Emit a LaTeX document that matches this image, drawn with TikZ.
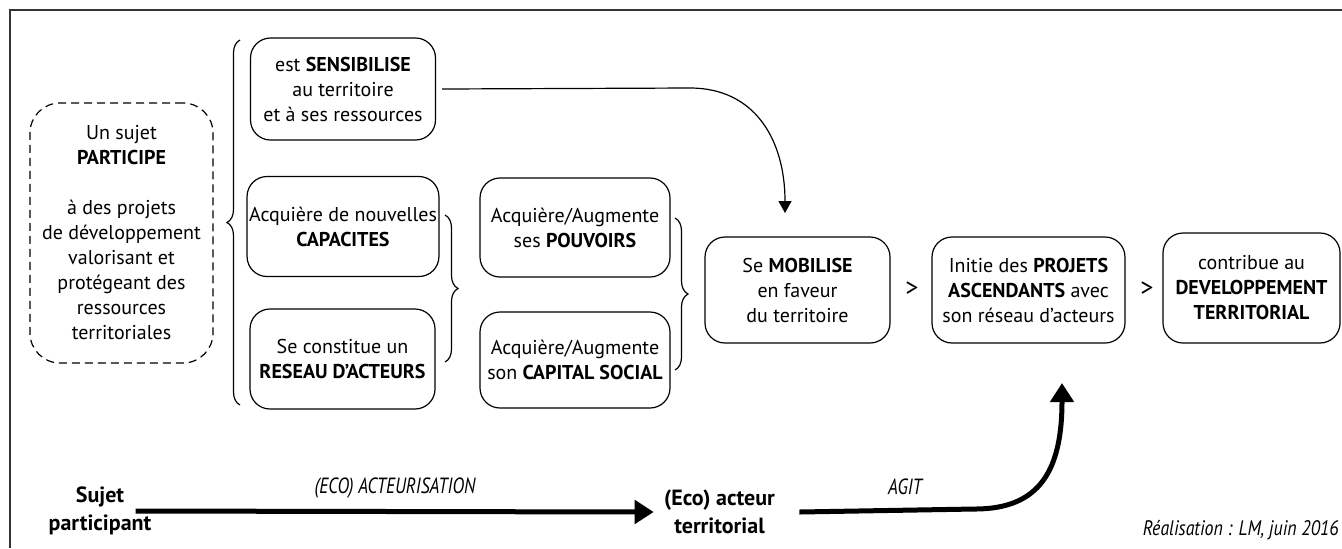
\documentclass[tikz,border=0pt]{standalone}
\usepackage{fontspec}
\setmainfont{PT Sans}
\usetikzlibrary{arrows.meta,decorations.pathreplacing}

\tikzset{
	etape/.style={draw, line width=0.6pt, rounded corners=10pt, align=center, inner sep=1pt,
		minimum width=92.5pt, minimum height=50pt, font=\fontsize{10}{12.5}\selectfont},
	sujetbox/.style={etape, dash pattern=on 4pt off 2.5pt, rounded corners=15pt},
	accolade/.style={decorate, decoration={brace, amplitude=6.5pt}, line width=0.6pt},
	lien/.style={line width=0.6pt, -{Triangle[length=6pt, width=6.5pt]}},
	fleche/.style={line width=2.5pt, -{Triangle[length=9.5pt, width=11.5pt]}},
	acteur/.style={align=center, inner sep=0pt, font=\fontsize{11}{14}\selectfont\bfseries},
	etiquette/.style={inner sep=0pt, font=\fontsize{11}{13}\selectfont\itshape},
	chevron/.style={inner sep=0pt, font=\fontsize{13}{13}\selectfont},
}

\begin{document}
\begin{tikzpicture}[x=0.5pt, y=-0.5pt]
	%%%%% CADRE %%%%%
	\useasboundingbox (0,0) rectangle (1342,548);
	\draw[line width=0.8pt, color=black!80] (10,548) -- (10,10) -- (1342,10);
	
	%%%%% SUJET %%%%%
	\node[sujetbox, minimum width=91.5pt, minimum height=130pt] (participe) at (121.5,233)
		{Un sujet\\\textbf{PARTICIPE}\\[12.5pt]à des projets\\de développement\\valorisant et\\protégeant des\\ressources\\territoriales};
	\draw[accolade] (240,405) -- (240,40);
	
	%%%%% COLONNE 1 %%%%%
	\node[etape, minimum height=51pt] (sensibilise) at (343,89) {est \textbf{SENSIBILISE}\\au territoire\\et à ses ressources};
	\node[etape] (capacites) at (343,226.5) {Acquière de nouvelles\\\textbf{CAPACITES}};
	\node[etape] (reseau) at (342.5,359) {Se constitue un\\\textbf{RESEAU D’ACTEURS}};
	\draw[accolade] (445,215) -- (445,362);
	
	%%%%% COLONNE 2 %%%%%
	\node[etape, minimum width=95pt, minimum height=49.5pt] (pouvoirs) at (575,227.5) {Acquière/Augmente\\ses \textbf{POUVOIRS}};
	\node[etape, minimum width=95pt, minimum height=48pt] (capital) at (575,360) {Acquière/Augmente\\son \textbf{CAPITAL SOCIAL}};
	\draw[accolade] (675,218) -- (675,370);
	
	%%%%% LIGNE DES ETAPES %%%%%
	\node[etape, minimum height=53pt] (mobilise) at (797.5,290) {Se \textbf{MOBILISE}\\en faveur\\du territoire};
	\node[chevron] (sup1) at (912,289) {>};
	\node[etape, minimum width=96.5pt, minimum height=53pt] (projets) at (1028.5,290) {Initie des \textbf{PROJETS}\\\textbf{ASCENDANTS} avec\\son réseau d’acteurs};
	\node[chevron] (sup2) at (1147,289) {>};
	\node[etape, minimum width=88.5pt, minimum height=55pt] (developpement) at (1251.5,288) {contribue au\\\textbf{DEVELOPPEMENT}\\\textbf{TERRITORIAL}};
	
	\coordinate (arrivee) at (785,213);
	\draw[lien] ([xshift=3pt]sensibilise.east) -- (690,88) .. controls (755,88) and (785,140) .. (arrivee);
	
	%%%%% TRAJECTOIRE %%%%%
	\node[acteur] (sujet) at (100,511) {Sujet\\participant};
	\node[acteur] (eco) at (719.5,512) {(Eco) acteur\\territorial};
	\coordinate (cible) at (1062,383);
	
	\draw[fleche] ([xshift=-8pt]sujet.east) -- ([xshift=-5pt]eco.west);
	\draw[fleche] ([xshift=12pt]eco.east) -- (975,509) .. controls (1040,509) and (1062,470) .. (cible);
	
	\node[etiquette] (acteurisation) at (395,488) {\scalebox{0.8}[1]{(ECO) ACTEURISATION}};
	\node[etiquette] (agit) at (905,487) {\scalebox{0.8}[1]{AGIT}};
	\node[etiquette, anchor=east, font=\fontsize{10.5}{12}\selectfont\itshape] (realisation) at (1339,530) {\scalebox{0.85}[1]{Réalisation : LM, juin 2016}};
\end{tikzpicture}
\end{document}
